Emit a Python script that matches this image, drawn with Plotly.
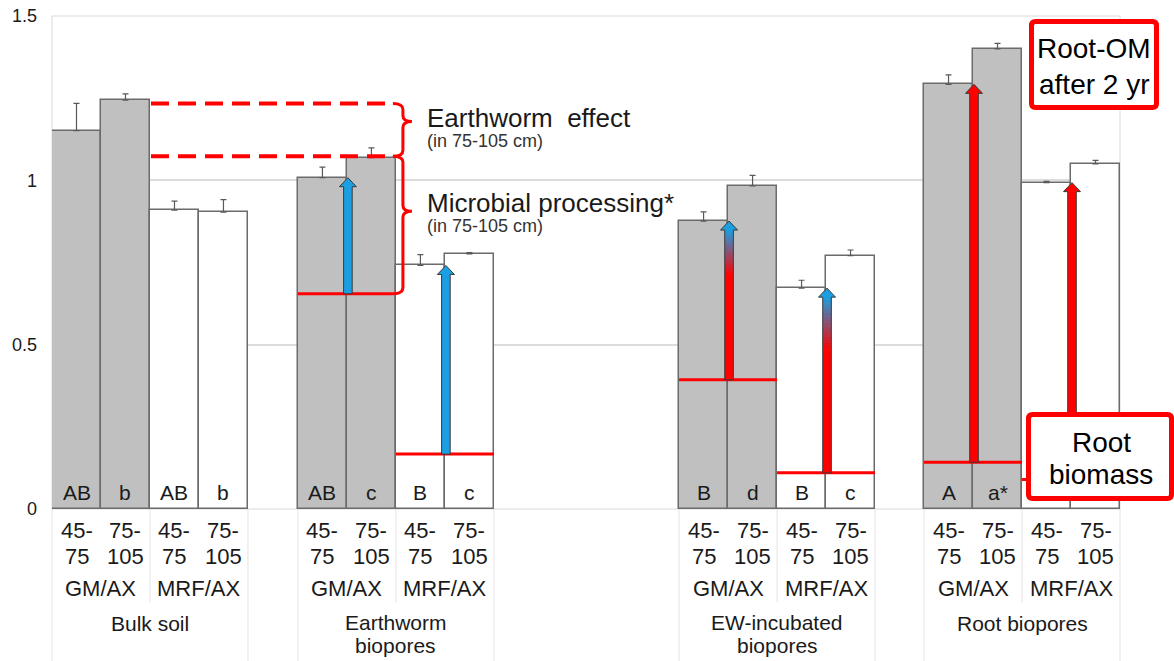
import plotly.graph_objects as go

# ---------------- data ----------------
groups = ["Bulk soil", "Earthworm<br>biopores", "EW-incubated<br>biopores", "Root biopores"]
treatments = ["GM/AX", "MRF/AX"]
depth_line1 = ["45-", "75-"]
depth_line2 = ["75", "105"]

# order in each group: GM/AX 45-75, GM/AX 75-105, MRF/AX 45-75, MRF/AX 75-105
bulk_soil = [1.151, 1.244, 0.909, 0.903]
bulk_soil_err = [0.083, 0.019, 0.028, 0.038]
earthworm_biopores = [1.008, 1.069, 0.741, 0.776]
earthworm_biopores_err = [0.032, 0.030, 0.033, 0.004]
ew_incubated_biopores = [0.876, 0.983, 0.672, 0.771]
ew_incubated_biopores_err = [0.028, 0.032, 0.024, 0.017]
root_biopores = [1.292, 1.400, 0.993, 1.050]
root_biopores_err = [0.029, 0.017, 0.004, 0.011]

letters = [["AB", "b", "AB", "b"],
           ["AB", "c", "B", "c"],
           ["B", "d", "B", "c"],
           ["A", "a*", "", ""]]

# initial (red line) levels for GM/AX and MRF/AX, per group (None = no line)
initial_gm = [None, 0.655, 0.393, 0.142]
initial_mrf = [None, 0.167, 0.110, 0.090]
arrow_style = [None, "blue", "gradient", "red"]

# earthworm-effect dashed levels
ew_effect_top = 1.234
ew_effect_bottom = 1.073

y_ticks = [0, 0.5, 1, 1.5]
y_tick_text = ["0", "0.5", "1", "1.5"]

# ---------------- layout helpers ----------------
W, H = 1174, 661
ML, MR, MT, MB = 52, 54, 16, 152
PW, PH = W - ML - MR, H - MT - MB
XR = 21.8
YR = 1.5
UX = PW / XR
UY = PH / YR
group_start = [0, 5.02, 12.8, 17.8]

def dx(p):
    return p / UX

def dy(p):
    return p / UY

def px_x(p):
    return (p - ML) / PW

def px_y(p):
    return (MT + PH - p) / PH

GRAY = "#c0c0c0"
EDGE = "#6b6b6b"
RED = "#ff0000"
BLUE = "#1b9fe2"
OUT = "#3a3a3a"
FONT = "Liberation Sans, Arial, sans-serif"
TXT = "#1a1a1a"

values = [bulk_soil, earthworm_biopores, ew_incubated_biopores, root_biopores]
errors = [bulk_soil_err, earthworm_biopores_err, ew_incubated_biopores_err, root_biopores_err]

xs, ys, es, cols = [], [], [], []
for g, s in enumerate(group_start):
    for k in range(4):
        xs.append(s + k + 0.5)
        ys.append(values[g][k])
        es.append(errors[g][k])
        cols.append(GRAY if k < 2 else "white")

fig = go.Figure()
fig.add_trace(go.Bar(
    x=xs, y=ys, width=1.0,
    marker=dict(color=cols, line=dict(color=EDGE, width=1.5)),
    error_y=dict(type="data", symmetric=False, array=es, arrayminus=[0] * len(es),
                 color="#595959", thickness=1.2, width=3),
    hoverinfo="skip", showlegend=False,
))

shapes = []
annotations = []

# plot border
shapes.append(dict(type="rect", xref="paper", yref="paper", x0=0, x1=1, y0=0, y1=1,
                   line=dict(color="#d9d9d9", width=1), layer="below"))

# separators under the axis
for g, s in enumerate(group_start):
    for xe in (s, s + 4):
        shapes.append(dict(type="line", xref="paper", yref="paper", x0=xe / XR, x1=xe / XR,
                           y0=0, y1=px_y(H), line=dict(color="#e3e3e3", width=1)))
    shapes.append(dict(type="line", xref="paper", yref="paper", x0=(s + 2) / XR, x1=(s + 2) / XR,
                       y0=0, y1=px_y(602), line=dict(color="#e3e3e3", width=1)))


def rect(x0, y0, x1, y1, color):
    return dict(type="rect", xref="x", yref="y", x0=x0, x1=x1, y0=y0, y1=y1,
                fillcolor=color, line=dict(width=0), layer="above")


def mix(c1, c2, t):
    a = [int(c1[i:i + 2], 16) for i in (1, 3, 5)]
    b = [int(c2[i:i + 2], 16) for i in (1, 3, 5)]
    return "rgb(%d,%d,%d)" % tuple(round(a[i] + (b[i] - a[i]) * t) for i in range(3))


def arrow(x, y0, y1, style):
    out = []
    hws, hwh, hh = dx(4.3), dx(8.5), dy(9)
    yb = y1 - hh
    if style == "gradient":
        split = y0 + 0.70 * (yb - y0)
        out.append(rect(x - hws, y0, x + hws, split + dy(0.5), RED))
        n = 16
        for i in range(n):
            a0 = split + (yb - split) * i / n
            a1 = split + (yb - split) * (i + 1) / n + dy(0.6)
            out.append(rect(x - hws, a0, x + hws, a1, mix(RED, BLUE, (i + 0.5) / n)))
        head = BLUE
    else:
        fill = BLUE if style == "blue" else RED
        out.append(rect(x - hws, y0, x + hws, yb + dy(0.5), fill))
        head = fill
    out.append(dict(type="path", xref="x", yref="y", layer="above",
                    path=f"M {x-hwh},{yb} L {x},{y1} L {x+hwh},{yb} Z",
                    fillcolor=head, line=dict(width=0)))
    out.append(dict(type="path", xref="x", yref="y", layer="above",
                    path=(f"M {x-hws},{y0} L {x-hws},{yb} L {x-hwh},{yb} L {x},{y1} "
                          f"L {x+hwh},{yb} L {x+hws},{yb} L {x+hws},{y0} Z"),
                    fillcolor="rgba(0,0,0,0)", line=dict(color=OUT, width=1)))
    return out


def hline(x0, x1, y, width=3, dash="solid"):
    return dict(type="line", xref="x", yref="y", x0=x0, x1=x1, y0=y, y1=y, layer="above",
                line=dict(color=RED, width=width, dash=dash))


# brace geometry
brace_x = group_start[1] + 2 + dx(7)
brace_end = brace_x - dx(10)


def brace(ytop, ybot, frac):
    r = dy(6)
    ym = ytop - frac * (ytop - ybot)
    tip = brace_x + dx(9)
    p = (f"M {brace_end},{ytop} Q {brace_x},{ytop} {brace_x},{ytop - r} "
         f"L {brace_x},{ym + r} Q {brace_x},{ym} {tip},{ym} "
         f"Q {brace_x},{ym} {brace_x},{ym - r} "
         f"L {brace_x},{ybot + r} Q {brace_x},{ybot} {brace_end},{ybot}")
    return dict(type="path", xref="x", yref="y", layer="above", path=p,
                line=dict(color=RED, width=3)), ym


# red initial lines + arrows
for g, s in enumerate(group_start):
    if initial_gm[g] is None:
        continue
    gm_end = brace_end if g == 1 else s + 2
    shapes.append(hline(s, gm_end, initial_gm[g]))
    shapes.append(hline(s + 2, s + 4, initial_mrf[g]))

for g, s in enumerate(group_start):
    if initial_gm[g] is None:
        continue
    shapes += arrow(s + 1.02, initial_gm[g], values[g][0], arrow_style[g])
    shapes += arrow(s + 3.02, initial_mrf[g], values[g][2], arrow_style[g])

# dashed earthworm-effect lines
shapes.append(hline(group_start[0] + 2 + dx(1), brace_end, ew_effect_top, width=4, dash="18px,9px"))
shapes.append(hline(group_start[0] + 2 + dx(1), brace_end, ew_effect_bottom, width=4, dash="18px,9px"))

b1, tip1 = brace(ew_effect_top, ew_effect_bottom, 0.34)
b2, tip2 = brace(ew_effect_bottom, initial_gm[1], 0.40)
shapes += [b1, b2]

text_x = brace_x + dx(22)
annotations += [
    dict(x=text_x, y=tip1 + dy(3), text="Earthworm  effect", xanchor="left", yanchor="middle",
         font=dict(size=26, color=TXT)),
    dict(x=text_x, y=tip1 - dy(20), text="(in 75-105 cm)", xanchor="left", yanchor="middle",
         font=dict(size=18, color="#333333")),
    dict(x=text_x, y=tip2 + dy(8), text="Microbial processing*", xanchor="left", yanchor="middle",
         font=dict(size=26, color=TXT)),
    dict(x=text_x, y=tip2 - dy(15), text="(in 75-105 cm)", xanchor="left", yanchor="middle",
         font=dict(size=18, color="#333333")),
]


def rounded_box(x0, y0, x1, y1, r=4):
    X0, X1 = px_x(x0), px_x(x1)
    Y0, Y1 = px_y(y0), px_y(y1)
    rx, ry = r / PW, r / PH
    p = (f"M {X0+rx},{Y0} L {X1-rx},{Y0} Q {X1},{Y0} {X1},{Y0-ry} "
         f"L {X1},{Y1+ry} Q {X1},{Y1} {X1-rx},{Y1} L {X0+rx},{Y1} Q {X0},{Y1} {X0},{Y1+ry} "
         f"L {X0},{Y0-ry} Q {X0},{Y0} {X0+rx},{Y0} Z")
    return dict(type="path", xref="paper", yref="paper", path=p, layer="above",
                fillcolor="white", line=dict(color=RED, width=5))


shapes.append(rounded_box(1031.5, 21.5, 1156.5, 107.5))
shapes.append(rounded_box(1028.5, 414.5, 1171.5, 498.5))

for txt, cx, cy in [("Root-OM", 1094, 48), ("after 2 yr", 1094, 84),
                    ("Root", 1101, 442), ("biomass", 1101, 474)]:
    annotations.append(dict(xref="paper", yref="paper", x=px_x(cx), y=px_y(cy), text=txt,
                            xanchor="center", yanchor="middle", font=dict(size=28, color="#000000")))

# letters in bars and axis labels
for g, s in enumerate(group_start):
    for k in range(4):
        cx = s + k + 0.5
        if letters[g][k]:
            annotations.append(dict(x=cx, y=0, yshift=17, text=letters[g][k], xanchor="center",
                                    yanchor="middle", font=dict(size=21, color=TXT)))
        annotations.append(dict(x=cx, y=0, yshift=-21, text=depth_line1[k % 2], xanchor="center",
                                yanchor="middle", font=dict(size=22, color=TXT)))
        annotations.append(dict(x=cx, y=0, yshift=-47, text=depth_line2[k % 2], xanchor="center",
                                yanchor="middle", font=dict(size=22, color=TXT)))
    for t in range(2):
        annotations.append(dict(x=s + 1 + 2 * t, y=0, yshift=-79, text=treatments[t], xanchor="center",
                                yanchor="middle", font=dict(size=22, color=TXT)))
    lines = groups[g].split("<br>")
    shifts = [-114] if len(lines) == 1 else [-113, -136]
    for ln, sh in zip(lines, shifts):
        annotations.append(dict(x=s + 2, y=0, yshift=sh, text=ln, xanchor="center",
                                yanchor="middle", font=dict(size=21, color=TXT)))

for a in annotations:
    a.setdefault("xref", "x")
    a.setdefault("yref", "y")
    a["showarrow"] = False

fig.update_layout(
    width=W, height=H,
    margin=dict(l=ML, r=MR, t=MT, b=MB, pad=0, autoexpand=False),
    paper_bgcolor="white", plot_bgcolor="white",
    font=dict(family=FONT, color=TXT),
    xaxis=dict(range=[0, XR], showticklabels=False, showgrid=False, zeroline=False,
               showline=False, ticks="", fixedrange=True, automargin=False),
    yaxis=dict(range=[0, YR], tickvals=y_ticks, ticktext=y_tick_text, showgrid=True,
               gridcolor="#dcdcdc", gridwidth=1.5, zeroline=False, showline=False, ticks="",
               tickfont=dict(size=18, color=TXT), ticklabelstandoff=14, fixedrange=True,
               automargin=False),
    shapes=shapes,
    annotations=annotations,
    showlegend=False,
    bargap=0,
)

fig.write_html("out.html")
